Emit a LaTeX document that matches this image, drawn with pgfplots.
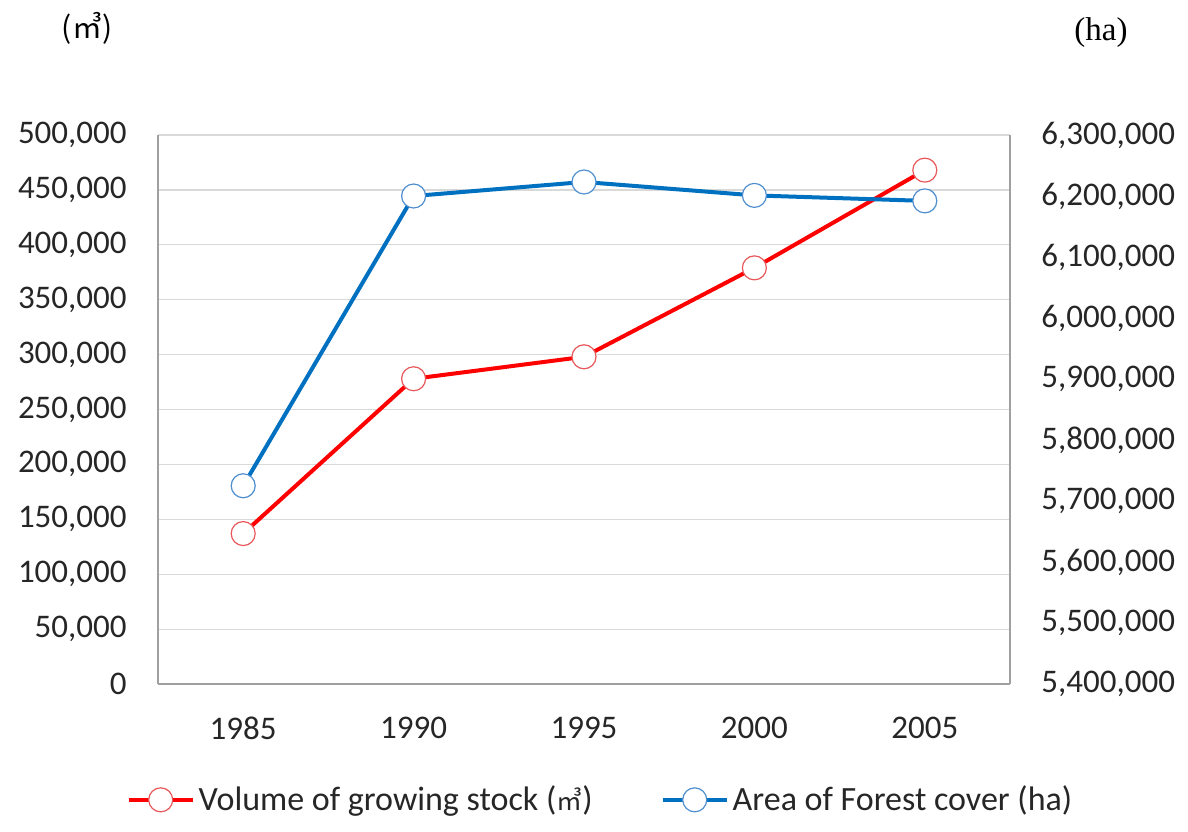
\documentclass[border=0pt]{standalone}
\usepackage{fontspec}
\setmainfont{Carlito}
\newfontfamily\cjk{Noto Sans CJK KR}
\newfontfamily\tnr{Liberation Serif}
\usepackage{pgfplots}
\pgfplotsset{compat=1.18}

\definecolor{stockred}{HTML}{FF0000}
\definecolor{stockredmk}{HTML}{E8585A}
\definecolor{forestblue}{HTML}{0070C0}
\definecolor{forestbluemk}{HTML}{4F8FCF}
\definecolor{gridgray}{HTML}{D9D9D9}
\definecolor{axisgray}{HTML}{A0A0A0}
\definecolor{labelgray}{HTML}{262626}

\pgfplotsset{
  base/.style={
    at={(79pt,73.5pt)}, anchor=south west,
    width=426pt, height=274.5pt, scale only axis,
    xmin=-0.5, xmax=4.5,
    xtick={0,1,2,3,4},
    xticklabels={1985,1990,1995,2000,2005},
    major tick length=0pt,
    tick label style={font=\fontsize{16.5}{19}\selectfont, text=labelgray, inner sep=0pt},
    /pgf/number format/assume math mode=true,
    /pgf/number format/fixed,
    /pgf/number format/1000 sep={,},
    scaled y ticks=false,
    axis line style={axisgray, line width=0.9pt},
    yticklabel shift=15.5pt,
    xticklabel shift=16.5pt,
  },
  series/.style={line width=2pt, mark=*, mark size=6pt,
    mark options={fill=white, line width=0.6pt, draw=#1}},
  legend image code/.code={
    \draw[mark repeat=2, mark phase=2] plot coordinates {(0pt,0pt) (16pt,0pt) (32pt,0pt)};
  },
}

\begin{document}
\begin{tikzpicture}
\useasboundingbox (0,0) rectangle (594pt,415.5pt);

% growing stock volume, left axis
\begin{axis}[base,
  ymin=0, ymax=500000, ytick={0,50000,...,500000},
  axis x line*=bottom, axis y line*=left,
  ymajorgrids, grid style={gridgray, line width=0.6pt},
]
\addplot[stockred, series=stockredmk] coordinates {
  (0,137000) (1,278000) (2,298000) (3,379000) (4,468000)
};
\end{axis}

% forest cover area, right axis
\begin{axis}[base,
  ymin=5400000, ymax=6300000, ytick={5400000,5500000,...,6300000},
  axis x line=none, axis y line*=right,
  legend columns=2,
  legend style={draw=none, fill=none, at={(0.5205,-0.211)}, anchor=center,
    font=\fontsize{17}{20}\selectfont, text=labelgray,
    /tikz/every even column/.append style={column sep=32pt}},
  legend cell align=left,
]
\addlegendimage{stockred, series=stockredmk}
\addlegendentry{Volume of growing stock ({\cjk\fontsize{13}{15}\selectfont ㎥})}
\addplot[forestblue, series=forestbluemk] coordinates {
  (0,5725000) (1,6200000) (2,6223000) (3,6201000) (4,6192000)
};
\addlegendentry{Area of Forest cover (ha)}
\end{axis}

\node[font=\cjk\fontsize{15}{17}\selectfont] at (43.5pt,401.5pt) {(㎥)};
\node[font=\tnr\fontsize{16.5}{19}\selectfont] at (550.5pt,399pt) {(ha)};
\end{tikzpicture}
\end{document}
